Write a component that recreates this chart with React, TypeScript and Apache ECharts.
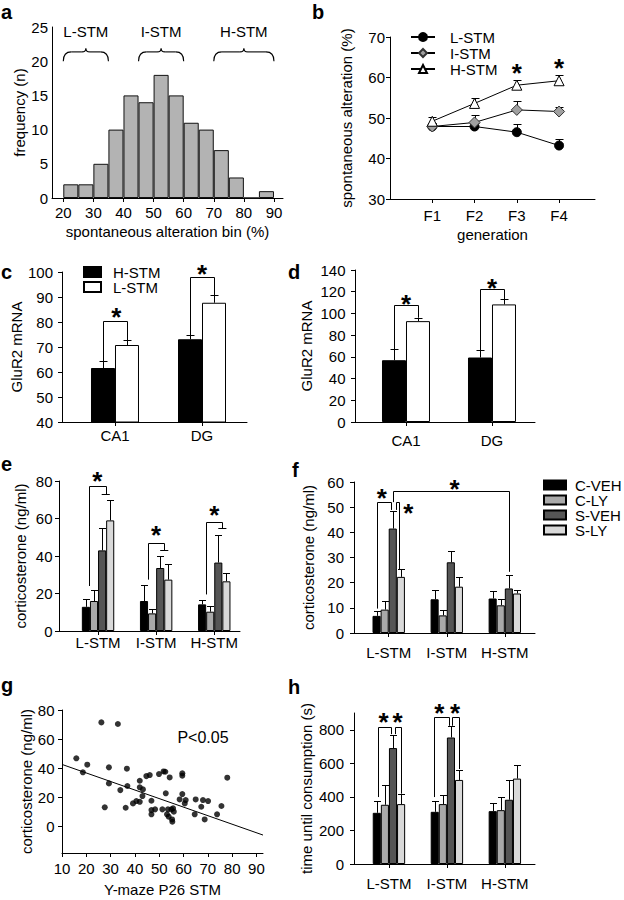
import React, { useEffect, useRef } from "react";
import * as echarts from "echarts";

const FONT = "'Liberation Sans', Arial, Helvetica, sans-serif";
const FS = 15;

// ---------- a: histogram ----------
const histBinCenters = [22.5, 27.5, 32.5, 37.5, 42.5, 47.5, 52.5, 57.5, 62.5, 67.5, 72.5, 77.5, 82.5, 87.5];
const histCounts = [2, 2, 5, 10, 15, 14, 18, 15, 11, 10, 7, 3, 0, 1];
const histTicks = [20, 30, 40, 50, 60, 70, 80, 90];
const braceLabels = ["L-STM", "I-STM", "H-STM"];
const braceFrom = [20, 45, 70];
const braceTo = [35, 60, 90];
const braceBaseY = 20;
const braceLabelY = 24.4;

// ---------- b: generations ----------
const generations = ["F1", "F2", "F3", "F4"];
const bL = [47.9, 47.9, 46.5, 43.2];
const bLErr = [48.8, 48.8, 48.4, 44.7];
const bI = [47.9, 48.9, 52.0, 51.6];
const bIErr = [48.8, 50.8, 54.3, 52.8];
const bH = [49.2, 53.6, 58.1, 59.2];
const bHErr = [50.2, 54.9, 59.4, 60.5];
const bStarX = [3, 4];
const bStarY = [62.6, 63.8];

// ---------- c / d: GluR2 mRNA ----------
const regions = ["CA1", "DG"];
const cH = [61.6, 73.1];
const cHErr = [64.3, 74.8];
const cL = [70.8, 87.7];
const cLErr = [72.8, 90.7];
const dH = [56.9, 59.4];
const dHErr = [66.8, 66.2];
const dL = [92.9, 108.3];
const dLErr = [96.0, 113.2];
// brackets: [groupL, offL(bar widths), yLeftBottom, yTop, groupR, offR, yRightBottom, capL, capR]
const cBrackets = [
  [1, -0.5, 64.3, 80.4, 1, 0.5, 72.8, 0, 0],
  [2, -0.5, 74.8, 98.0, 2, 0.5, 90.7, 0, 0],
];
const cStars = [[1, 0.05, 84.1], [2, 0.0, 101.5]];
const dBrackets = [
  [1, -0.5, 66.8, 107.7, 1, 0.5, 96.0, 0, 0],
  [2, -0.5, 66.2, 122.5, 2, 0.5, 113.2, 0, 0],
];
const dStars = [[1, 0.0, 114.2], [2, 0.0, 129.0]];

// ---------- e / f / h: four treatment groups ----------
const stmGroups = ["L-STM", "I-STM", "H-STM"];
const treatments = ["C-VEH", "C-LY", "S-VEH", "S-LY"];

const eCVEH = [12.9, 16.0, 14.2];
const eCVEHErr = [17.0, 24.5, 16.8];
const eCLY = [16.0, 9.4, 10.3];
const eCLYErr = [21.8, 12.0, 13.5];
const eSVEH = [43.0, 33.6, 36.5];
const eSVEHErr = [55.0, 40.0, 51.3];
const eSLY = [59.0, 27.4, 26.5];
const eSLYErr = [70.0, 36.0, 31.2];
const eBrackets = [
  [1, -1.1, 24.0, 77.3, 1, 1.0, 72.9, 0.45, 1.45],
  [2, -1.0, 27.4, 47.1, 2, 1.0, 43.2, 0.5, 1.5],
  [3, -1.05, 19.5, 58.3, 3, 1.0, 54.8, 0.5, 1.5],
];
const eStars = [[1, -0.1, 83.2], [2, 0.0, 54.2], [3, 0.0, 64.9]];

const fCVEH = [6.8, 13.4, 13.7];
const fCVEHErr = [8.8, 17.0, 16.8];
const fCLY = [9.3, 7.0, 11.0];
const fCLYErr = [12.8, 9.0, 13.4];
const fSVEH = [41.5, 28.1, 17.7];
const fSVEHErr = [48.3, 32.6, 23.0];
const fSLY = [22.3, 18.4, 15.7];
const fSLYErr = [25.3, 22.3, 17.0];
const fBrackets = [
  [1, -1.5, 9.7, 52.0, 1, 0.3, 48.9, 0, 0],
  [1, 0.85, 48.9, 52.0, 1, 1.3, 25.3, 0, 0],
  [1, 0.57, 52.0, 56.6, 3, 0.57, 24.3, 0, 0],
];
const fStars = [[1, -0.86, 55.8], [1, 2.42, 50.1], [2, 0.95, 59.4]];

const hCVEH = [305, 311, 315];
const hCVEHErr = [373, 373, 361];
const hCLY = [353, 357, 321];
const hCLYErr = [469, 409, 399];
const hSVEH = [691, 754, 383];
const hSVEHErr = [770, 820, 501];
const hSLY = [357, 501, 509];
const hSLYErr = [419, 561, 589];
const hBrackets = [
  [1, -1.4, 399, 818, 1, 0.25, 774, 0, 0],
  [1, 0.75, 774, 818, 1, 1.45, 419, 0, 0],
  [2, -1.6, 399, 874, 2, 0.3, 824, 0, 0],
  [2, 0.65, 824, 874, 2, 1.46, 566, 0, 0],
];
const hStars = [[1, -0.65, 880], [1, 1.07, 880], [2, -0.95, 936], [2, 1.02, 936]];

// ---------- g: scatter ----------
const gX = [15.9, 18.6, 20.4, 26.2, 27.6, 29.3, 29.3, 33.0, 34.0, 36.7, 36.2, 36.9, 39.2, 40.6, 42.0, 42.0, 42.0, 43.1, 43.3, 44.7, 46.1, 46.8, 46.8, 46.8, 48.3, 49.9, 51.8, 52.5, 51.3, 52.7, 53.6, 53.2, 53.9, 54.3, 55.0, 55.3, 55.4, 56.0, 55.7, 58.4, 59.5, 59.5, 59.5, 60.5, 60.9, 64.6, 65.0, 67.3, 68.0, 68.7, 70.1, 73.8, 75.6, 78.0];
const gY = [46.9, 37.3, 42.5, 71.5, 13.3, 40.7, 29.7, 70.4, 25.1, 39.8, 13.0, 27.9, 16.0, 17.6, 31.5, 27.0, 17.1, 21.0, 25.6, 34.7, 35.4, 17.8, 11.4, 8.5, 11.9, 36.1, 37.9, 37.7, 11.9, 22.9, 11.9, 8.5, 6.9, 33.8, 11.9, 5.0, 3.4, 10.3, 12.6, 18.7, 36.6, 35.0, 22.4, 16.0, 18.3, 8.5, 18.7, 13.7, 18.3, 5.0, 17.6, 8.5, 14.2, 33.6];
const gFitX = [10, 92.7];
const gFitY = [42.7, -5.7];
const gTicksX = [10, 20, 30, 40, 50, 60, 70, 80, 90];
const gTicksY = [0, 20, 40, 60, 80];
const gNote = "P<0.05";
const gNoteX = 68;
const gNoteY = 61;

// ---------- styling ----------
const treatColors = ["#000000", "#a9a9a9", "#555555", "#d9d9d9"];
const STAR_FS = 26;

const txt = (extra: any) => ({ fill: "#000", fontFamily: FONT, fontSize: FS, ...extra });

function axis(o: any) {
  return {
    type: "value",
    min: o.min,
    max: o.max,
    axisLine: { show: true, onZero: false, lineStyle: { color: "#000", width: 1 } },
    axisTick: { show: o.tick !== false, length: 4, inside: false, customValues: o.ticks, lineStyle: { color: "#000", width: 1 } },
    axisLabel: {
      show: true,
      customValues: o.ticks,
      formatter: o.fmt || ((v: number) => String(v)),
      margin: o.margin ?? 8,
      color: "#000",
      fontSize: FS,
      fontFamily: FONT,
    },
    splitLine: { show: false },
    name: o.name,
    nameLocation: "middle",
    nameGap: o.gap ?? 30,
    nameTextStyle: { color: "#000", fontSize: FS, fontFamily: FONT },
  };
}

function range(a: number, b: number, s: number) {
  const r: number[] = [];
  for (let v = a; v <= b + 1e-9; v += s) r.push(v);
  return r;
}

function errSeries(gi: number, xs: number[], vals: number[], tops: number[], offPx: number, capW: number) {
  return {
    type: "custom",
    name: "err",
    xAxisIndex: gi,
    yAxisIndex: gi,
    silent: true,
    z: 1,
    data: xs.map((x, i) => [x, vals[i], tops[i]]),
    renderItem: (_p: any, api: any) => {
      const b = api.coord([api.value(0), api.value(1)]);
      const t = api.coord([api.value(0), api.value(2)]);
      const x = Math.round(b[0] + offPx) + 0.5;
      const yt = Math.round(t[1]) + 0.5;
      const st = { stroke: "#000", lineWidth: 1 };
      return {
        type: "group",
        children: [
          { type: "line", shape: { x1: x, y1: b[1], x2: x, y2: yt }, style: st },
          { type: "line", shape: { x1: x - capW / 2, y1: yt, x2: x + capW / 2, y2: yt }, style: st },
        ],
      };
    },
  };
}

function bracketSeries(gi: number, w: number, rows: number[][]) {
  return {
    type: "custom",
    name: "bracket",
    xAxisIndex: gi,
    yAxisIndex: gi,
    silent: true,
    z: 4,
    encode: { x: 0, y: 2 },
    data: rows,
    renderItem: (_p: any, api: any) => {
      const v = (i: number) => api.value(i);
      const pL = api.coord([v(0), v(2)]);
      const pT = api.coord([v(0), v(3)]);
      const pR = api.coord([v(4), v(6)]);
      const xL = Math.round(pL[0] + v(1) * w) + 0.5;
      const xR = Math.round(pR[0] + v(5) * w) + 0.5;
      const yT = Math.round(pT[1]) + 0.5;
      const st = { stroke: "#000", lineWidth: 1, fill: null };
      const children: any[] = [
        { type: "polyline", shape: { points: [[xL, pL[1]], [xL, yT], [xR, yT], [xR, pR[1]]] }, style: st },
      ];
      if (v(7) !== v(8)) {
        const yc = Math.round(pR[1]) + 0.5;
        children.push({ type: "line", shape: { x1: pR[0] + v(7) * w, y1: yc, x2: pR[0] + v(8) * w, y2: yc }, style: st });
      }
      return { type: "group", children };
    },
  };
}

function starSeries(gi: number, w: number, rows: number[][]) {
  return {
    type: "custom",
    name: "star",
    xAxisIndex: gi,
    yAxisIndex: gi,
    silent: true,
    z: 5,
    encode: { x: 0, y: 2 },
    data: rows,
    renderItem: (_p: any, api: any) => {
      const p = api.coord([api.value(0), api.value(2)]);
      return {
        type: "text",
        x: p[0] + api.value(1) * w,
        y: p[1] + STAR_FS * 0.22,
        style: {
          text: "*",
          fill: "#000",
          fontFamily: FONT,
          fontSize: STAR_FS,
          fontWeight: "bold",
          align: "center",
          verticalAlign: "middle",
          textAlign: "center",
          textVerticalAlign: "middle",
        },
      };
    },
  };
}

function buildOption() {
  const grid: any[] = [];
  const xAxis: any[] = [];
  const yAxis: any[] = [];
  const series: any[] = [];
  const add = (g: any, xa: any, ya: any) => {
    const i = grid.length;
    grid.push({ ...g });
    xAxis.push({ ...xa, gridIndex: i });
    yAxis.push({ ...ya, gridIndex: i });
    return i;
  };

  // ----- a -----
  const ga = add(
    { left: 52, top: 27, width: 231, height: 171 },
    axis({ min: 16.25, max: 93, ticks: histTicks, margin: 7, name: "spontaneous alteration bin (%)", gap: 26 }),
    axis({ min: 0, max: 25, ticks: range(0, 25, 5), margin: 4, tick: false, name: "frequency (n)", gap: 25.5 })
  );
  series.push({
    type: "bar",
    name: "frequency",
    xAxisIndex: ga,
    yAxisIndex: ga,
    barWidth: "100%",
    data: histBinCenters.map((x, i) => [x, histCounts[i]]),
    itemStyle: { color: "#b3b3b3", borderColor: "#111", borderWidth: 1 },
  });
  series.push({
    type: "custom",
    name: "braces",
    xAxisIndex: ga,
    yAxisIndex: ga,
    silent: true,
    data: braceFrom.map((f, i) => [f, braceTo[i]]),
    renderItem: (p: any, api: any) => {
      const a = api.coord([api.value(0), braceBaseY]);
      const b = api.coord([api.value(1), braceBaseY]);
      const lab = api.coord([api.value(0), braceLabelY]);
      const yB = a[1];
      const yF = yB - 9.3;
      const yT = yB - 12.7;
      const xm = (a[0] + b[0]) / 2;
      const st = { stroke: "#000", lineWidth: 1.1, fill: null };
      return {
        type: "group",
        children: [
          { type: "bezierCurve", shape: { x1: a[0], y1: yB, x2: a[0] + 8, y2: yF, cpx1: a[0], cpy1: yF }, style: st },
          { type: "line", shape: { x1: a[0] + 8, y1: yF, x2: xm - 4, y2: yF }, style: st },
          { type: "bezierCurve", shape: { x1: xm - 4, y1: yF, x2: xm, y2: yT, cpx1: xm, cpy1: yF }, style: st },
          { type: "bezierCurve", shape: { x1: xm, y1: yT, x2: xm + 4, y2: yF, cpx1: xm, cpy1: yF }, style: st },
          { type: "line", shape: { x1: xm + 4, y1: yF, x2: b[0] - 8, y2: yF }, style: st },
          { type: "bezierCurve", shape: { x1: b[0] - 8, y1: yF, x2: b[0], y2: yB, cpx1: b[0], cpy1: yF }, style: st },
          {
            type: "text",
            x: xm,
            y: lab[1],
            style: txt({ text: braceLabels[p.dataIndex], align: "center", verticalAlign: "middle", textAlign: "center", textVerticalAlign: "middle" }),
          },
        ],
      };
    },
  });

  // ----- b -----
  const gb = add(
    { left: 390, top: 37, width: 205, height: 162 },
    axis({ min: 0, max: 4.85, ticks: [1, 2, 3, 4], fmt: (v: number) => generations[v - 1], margin: 9, name: "generation", gap: 27.5 }),
    axis({ min: 30, max: 70, ticks: range(30, 70, 10), margin: 5, name: "spontaneous alteration (%)", gap: 36 })
  );
  const gx = generations.map((_, i) => i + 1);
  series.push(errSeries(gb, gx, bL, bLErr, 0, 8));
  series.push(errSeries(gb, gx, bI, bIErr, 0, 8));
  series.push(errSeries(gb, gx, bH, bHErr, 0, 8));
  const lineBase = { type: "line", xAxisIndex: gb, yAxisIndex: gb, z: 3, lineStyle: { color: "#000", width: 1 } };
  series.push({
    ...lineBase,
    name: "L-STM",
    symbol: "circle",
    symbolSize: 9,
    itemStyle: { color: "#000", borderColor: "#000", borderWidth: 1 },
    data: bL.map((v, i) => [i + 1, v]),
  });
  series.push({
    ...lineBase,
    name: "I-STM",
    symbol: "diamond",
    symbolSize: 11,
    itemStyle: { color: "#a0a0a0", borderColor: "#333", borderWidth: 1 },
    data: bI.map((v, i) => [i + 1, v]),
  });
  series.push({
    ...lineBase,
    name: "H-STM",
    symbol: "triangle",
    symbolSize: 10,
    itemStyle: { color: "#fff", borderColor: "#000", borderWidth: 1 },
    data: bH.map((v, i) => [i + 1, v]),
  });
  series.push(starSeries(gb, 0, bStarX.map((x, i) => [x, 0, bStarY[i]])));

  // ----- c -----
  const gc = add(
    { left: 62, top: 272, width: 185, height: 150 },
    axis({ min: 0.391, max: 2.517, ticks: [1, 2], fmt: (v: number) => regions[v - 1], margin: 6 }),
    axis({ min: 40, max: 100, ticks: range(40, 100, 10), margin: 9, name: "GluR2 mRNA", gap: 38.5 })
  );
  const rx = regions.map((_, i) => i + 1);
  const wCD = 24;
  series.push({
    type: "bar", name: "c:H-STM", xAxisIndex: gc, yAxisIndex: gc, barWidth: wCD, barGap: "0%",
    itemStyle: { color: "#000", borderColor: "#000", borderWidth: 1 },
    data: cH.map((v, i) => [rx[i], v]),
  });
  series.push({
    type: "bar", name: "c:L-STM", xAxisIndex: gc, yAxisIndex: gc, barWidth: wCD, barGap: "0%",
    itemStyle: { color: "#fff", borderColor: "#000", borderWidth: 1 },
    data: cL.map((v, i) => [rx[i], v]),
  });
  series.push(errSeries(gc, rx, cH, cHErr, -wCD / 2, 8));
  series.push(errSeries(gc, rx, cL, cLErr, wCD / 2, 8));
  series.push(bracketSeries(gc, wCD, cBrackets));
  series.push(starSeries(gc, wCD, cStars));

  // ----- d -----
  const gd = add(
    { left: 355, top: 270, width: 180, height: 152 },
    axis({ min: 0.407, max: 2.5, ticks: [1, 2], fmt: (v: number) => regions[v - 1], margin: 11 }),
    axis({ min: 0, max: 140, ticks: range(0, 140, 20), margin: 9.5, name: "GluR2 mRNA", gap: 41.5 })
  );
  series.push({
    type: "bar", name: "d:H-STM", xAxisIndex: gd, yAxisIndex: gd, barWidth: wCD, barGap: "0%",
    itemStyle: { color: "#000", borderColor: "#000", borderWidth: 1 },
    data: dH.map((v, i) => [rx[i], v]),
  });
  series.push({
    type: "bar", name: "d:L-STM", xAxisIndex: gd, yAxisIndex: gd, barWidth: wCD, barGap: "0%",
    itemStyle: { color: "#fff", borderColor: "#000", borderWidth: 1 },
    data: dL.map((v, i) => [rx[i], v]),
  });
  series.push(errSeries(gd, rx, dH, dHErr, -wCD / 2, 8));
  series.push(errSeries(gd, rx, dL, dLErr, wCD / 2, 8));
  series.push(bracketSeries(gd, wCD, dBrackets));
  series.push(starSeries(gd, wCD, dStars));

  // ----- e, f, h -----
  const sx = stmGroups.map((_, i) => i + 1);
  const wT = 8.1;
  const fourBars = (gi: number, vals: number[][], errs: number[][]) => {
    vals.forEach((vs, k) => {
      series.push({
        type: "bar", name: treatments[k], xAxisIndex: gi, yAxisIndex: gi, barWidth: wT, barGap: "0%",
        itemStyle: { color: treatColors[k], borderColor: "#000", borderWidth: 1 },
        data: vs.map((v, i) => [sx[i], v]),
      });
    });
    vals.forEach((vs, k) => {
      series.push(errSeries(gi, sx, vs, errs[k], (k - 1.5) * wT, 7));
    });
  };

  const ge = add(
    { left: 59, top: 481, width: 181, height: 150 },
    axis({ min: 0.328, max: 3.443, ticks: sx, fmt: (v: number) => stmGroups[v - 1], margin: 4 }),
    axis({ min: 0, max: 80, ticks: range(0, 80, 20), margin: 6.5, name: "corticosterone (ng/ml)", gap: 31 })
  );
  fourBars(ge, [eCVEH, eCLY, eSVEH, eSLY], [eCVEHErr, eCLYErr, eSVEHErr, eSLYErr]);
  series.push(bracketSeries(ge, wT, eBrackets));
  series.push(starSeries(ge, wT, eStars));

  const gf = add(
    { left: 354, top: 482, width: 181, height: 151 },
    axis({ min: 0.402, max: 3.52, ticks: sx, fmt: (v: number) => stmGroups[v - 1], margin: 12 }),
    axis({ min: 0, max: 60, ticks: range(0, 60, 10), margin: 10, name: "corticosterone (ng/ml)", gap: 38.5 })
  );
  fourBars(gf, [fCVEH, fCLY, fSVEH, fSLY], [fCVEHErr, fCLYErr, fSVEHErr, fSLYErr]);
  series.push(bracketSeries(gf, wT, fBrackets));
  series.push(starSeries(gf, wT, fStars));

  // ----- g -----
  const gg = add(
    { left: 62, top: 710, width: 201, height: 143 },
    axis({ min: 10, max: 92.7, ticks: gTicksX, margin: 8, name: "Y-maze P26 STM", gap: 28.5 }),
    axis({ min: -18, max: 80, ticks: gTicksY, margin: 7.5, name: "corticosterone (ng/ml)", gap: 20.5 })
  );
  series.push({
    type: "scatter", name: "corticosterone", xAxisIndex: gg, yAxisIndex: gg,
    symbol: "circle", symbolSize: 6, itemStyle: { color: "#000" },
    data: gX.map((x, i) => [x, gY[i]]),
  });
  series.push({
    type: "line", name: "fit", xAxisIndex: gg, yAxisIndex: gg, symbol: "none",
    lineStyle: { color: "#000", width: 1 },
    data: gFitX.map((x, i) => [x, gFitY[i]]),
  });
  series.push({
    type: "custom", name: "note", xAxisIndex: gg, yAxisIndex: gg, silent: true,
    data: [[gNoteX, gNoteY]],
    renderItem: (_p: any, api: any) => {
      const p = api.coord([api.value(0), api.value(1)]);
      return { type: "text", x: p[0], y: p[1], style: txt({ text: gNote, fontSize: 16, align: "center", verticalAlign: "middle", textAlign: "center", textVerticalAlign: "middle" }) };
    },
  });

  // ----- h -----
  const gh = add(
    { left: 354, top: 713, width: 181, height: 151 },
    axis({ min: 0.397, max: 3.52, ticks: sx, fmt: (v: number) => stmGroups[v - 1], margin: 12 }),
    axis({ min: 0, max: 900, ticks: range(0, 800, 200), margin: 10, name: "time until consumption (s)", gap: 40.5 })
  );
  fourBars(gh, [hCVEH, hCLY, hSVEH, hSLY], [hCVEHErr, hCLYErr, hSVEHErr, hSLYErr]);
  series.push(bracketSeries(gh, wT, hBrackets));
  series.push(starSeries(gh, wT, hStars));

  const legendText = { fontSize: FS, fontFamily: FONT, color: "#000" };
  const legend = [
    {
      data: ["L-STM", "I-STM", "H-STM"], left: 410, top: 29, orient: "vertical", padding: 0,
      itemWidth: 24, itemHeight: 10, itemGap: 0, selectedMode: false,
      textStyle: { ...legendText, lineHeight: 16, padding: [0, 0, 0, 10] },
    },
    {
      data: ["c:H-STM", "c:L-STM"], formatter: (n: string) => n.slice(2), left: 83, top: 264.5, orient: "vertical", padding: 0,
      icon: "rect", itemWidth: 17, itemHeight: 10, itemGap: 0, selectedMode: false,
      textStyle: { ...legendText, lineHeight: 15, padding: [0, 0, 0, 7] },
    },
    {
      data: treatments, left: 543, top: 477.5, orient: "vertical", padding: 0,
      icon: "rect", itemWidth: 22, itemHeight: 9, itemGap: 0, selectedMode: false,
      textStyle: { ...legendText, lineHeight: 15, padding: [0, 0, 0, 4] },
    },
  ];

  const letters = [
    ["a", 1, 17], ["b", 312, 17], ["c", 1, 277], ["d", 288, 277],
    ["e", 1, 469], ["f", 292, 475], ["g", 1, 690], ["h", 288, 692],
  ];
  const graphic = letters.map(([t, x, y]) => ({
    type: "text",
    x: x as number,
    y: (y as number) - 5,
    style: { text: t, fill: "#000", fontFamily: FONT, fontSize: 20, fontWeight: "bold", align: "left", verticalAlign: "middle", textAlign: "left", textVerticalAlign: "middle" },
  }));

  return {
    animation: false,
    backgroundColor: "#fff",
    textStyle: { fontFamily: FONT },
    grid,
    xAxis,
    yAxis,
    series,
    legend,
    graphic,
  };
}

export default function App() {
  const ref = useRef<HTMLDivElement>(null);
  useEffect(() => {
    const chart = echarts.init(ref.current as HTMLDivElement, null, { renderer: "svg" });
    chart.setOption(buildOption() as any);
    return () => chart.dispose();
  }, []);
  return <div ref={ref} style={{ position: "absolute", left: 0, top: 0, width: 624, height: 900, background: "#fff" }} />;
}
